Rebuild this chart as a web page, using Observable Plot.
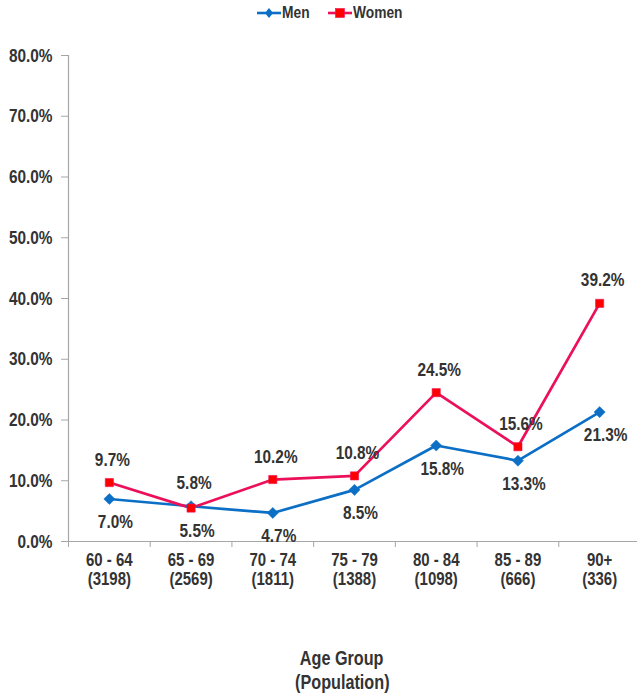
<!DOCTYPE html>
<html>
<head>
<meta charset="utf-8">
<script src="https://cdn.jsdelivr.net/npm/d3@7"></script>
<script src="https://cdn.jsdelivr.net/npm/@observablehq/plot@0.6"></script>
<style>
  html, body { margin: 0; padding: 0; background: #fff; }
  body { width: 637px; height: 696px; overflow: hidden; position: relative; font-family: "Liberation Sans", Arial, sans-serif; font-weight: bold; color: #333; }
  #legend { height: 28px; position: relative; font-size: 17px; }
  .item { position: absolute; top: 4px; display: flex; align-items: center; height: 18px; }
  .item span { display: inline-block; transform: scaleX(0.81); transform-origin: left center; }
  #title { position: absolute; top: 646px; left: 242px; width: 200px; text-align: center; font-size: 20px; line-height: 24px; }
  #title span { display: inline-block; transform: scaleX(0.81); }
</style>
</head>
<body>
<div id="legend"></div>
<div id="chart"></div>
<div id="title"><span>Age Group</span><br><span>(Population)</span></div>
<script>
const ageGroups = ["60 - 64", "65 - 69", "70 - 74", "75 - 79", "80 - 84", "85 - 89", "90+"];
const populations = [3198, 2569, 1811, 1388, 1098, 666, 336];
const menValues = [0.070, 0.058, 0.047, 0.085, 0.158, 0.133, 0.213];
const womenValues = [0.097, 0.055, 0.102, 0.108, 0.245, 0.156, 0.392];
const yTicks = [0, 0.1, 0.2, 0.3, 0.4, 0.5, 0.6, 0.7, 0.8];
const seriesNames = ["Men", "Women"];

const menColor = "#0B6FC6";
const womenLine = "#EC1059";
const womenMarker = "#FF0000";

const data = [];
ageGroups.forEach((g, i) => {
  data.push({series: "Men", i, value: menValues[i], other: womenValues[i]});
  data.push({series: "Women", i, value: womenValues[i], other: menValues[i]});
});
const men = data.filter(d => d.series === "Men");
const women = data.filter(d => d.series === "Women");
const above = data.filter(d => d.value >= d.other);
const below = data.filter(d => d.value < d.other);

const n = ageGroups.length;
const centers = d3.range(n);
const bounds = d3.range(n + 1).map(k => k - 0.5);
const font = '"Liberation Sans", Arial, sans-serif';

const chart = Plot.plot({
  width: 637,
  height: 592,
  marginTop: 27,
  marginLeft: 68,
  marginRight: -3,
  marginBottom: 79,
  style: {fontFamily: font, fontWeight: "bold", color: "#333", background: "#fff", overflow: "visible"},
  x: {type: "linear", domain: [-0.5, n - 0.5]},
  y: {domain: [0, 0.8]},
  marks: [
    Plot.ruleY([0], {stroke: "#A6A6A6", strokeWidth: 1.2}),
    Plot.ruleX([-0.5], {y1: 0, y2: 0.8, stroke: "#A6A6A6", strokeWidth: 1.2}),
    Plot.axisY({ticks: yTicks, tickFormat: d3.format(".1%"), tickSize: 7, tickPadding: 9, fontSize: 19, stroke: "#A6A6A6", fill: "#333", label: null}),
    Plot.axisX({ticks: bounds, tickFormat: () => "", tickSize: 6, stroke: "#A6A6A6", label: null}),
    Plot.axisX({ticks: centers, tickSize: 0, tickPadding: 10, fontSize: 18.5, lineHeight: 1.07, fill: "#333", label: null,
      tickFormat: i => `${ageGroups[i]}\n(${populations[i]})`}),
    Plot.line(men, {x: "i", y: "value", stroke: menColor, strokeWidth: 2.7}),
    Plot.line(women, {x: "i", y: "value", stroke: womenLine, strokeWidth: 2.7}),
    Plot.dot(men, {x: "i", y: "value", symbol: "diamond2", r: 5, fill: menColor, stroke: menColor, strokeWidth: 0.5}),
    Plot.dot(women, {x: "i", y: "value", symbol: "square2", r: 5.2, fill: womenMarker, stroke: womenLine, strokeWidth: 0.6}),
    Plot.text(above, {x: "i", y: "value", text: d => d3.format(".1%")(d.value), dy: -23, dx: 3, fontSize: 19, fill: "#333"}),
    Plot.text(below, {x: "i", y: "value", text: d => d3.format(".1%")(d.value), dy: 23, dx: 6, fontSize: 19, fill: "#333"})
  ]
});
document.getElementById("chart").appendChild(chart);

// condense the text horizontally around its anchor to imitate a narrow bold face
chart.querySelectorAll("text").forEach(t => {
  const x = +t.getAttribute("x") || 0;
  const y = +t.getAttribute("y") || 0;
  const tr = t.getAttribute("transform") || "";
  t.setAttribute("transform", `${tr} translate(${x},${y}) scale(0.81,1) translate(${-x},${-y})`);
});

// legend
const legend = document.getElementById("legend");
const legendPos = [257, 328];
seriesNames.forEach((name, k) => {
  const item = document.createElement("div");
  item.className = "item";
  item.style.left = legendPos[k] + "px";
  const col = k === 0 ? menColor : womenLine;
  const sym = k === 0
    ? `<path d="M12,4 L16,9 L12,14 L8,9 Z" fill="${menColor}"/>`
    : `<rect x="7.5" y="4.5" width="9" height="9" fill="${womenMarker}" stroke="${womenLine}" stroke-width="0.6"/>`;
  item.innerHTML = `<svg width="24" height="18" style="margin-right:1px"><line x1="0" y1="9" x2="24" y2="9" stroke="${col}" stroke-width="2.6"/>${sym}</svg><span>${name}</span>`;
  legend.appendChild(item);
});
</script>
</body>
</html>
